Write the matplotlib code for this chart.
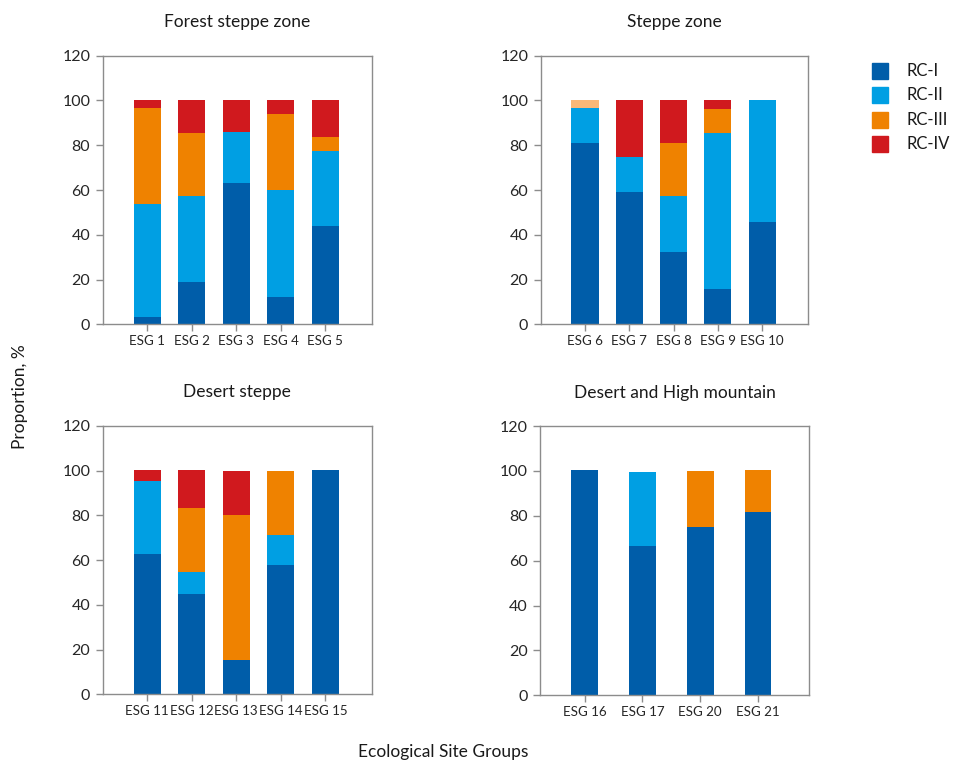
import numpy as np
import matplotlib.pyplot as plt
from matplotlib.patches import Rectangle

plt.rcParams['font.family'] = ['Lato', 'DejaVu Sans']

# Data (proportion, %)
series = ['RC-I', 'RC-II', 'RC-III', 'RC-IV']
colors = ['#005DA9', '#009FE3', '#EF8200', '#D0191E']
pale_orange = '#F9B878'

forest_groups = ['ESG 1', 'ESG 2', 'ESG 3', 'ESG 4', 'ESG 5']
forest_rc1 = [3.3, 18.9, 63.1, 12.2, 43.9]
forest_rc2 = [50.4, 38.6, 22.9, 47.8, 33.5]
forest_rc3 = [42.9, 28.0, 0.0, 33.9, 6.3]
forest_rc4 = [3.4, 14.5, 14.0, 6.1, 16.3]

steppe_groups = ['ESG 6', 'ESG 7', 'ESG 8', 'ESG 9', 'ESG 10']
steppe_rc1 = [81.0, 59.1, 32.3, 15.8, 45.7]
steppe_rc2 = [15.6, 15.6, 25.2, 69.7, 54.3]
steppe_rc3 = [3.4, 0.0, 23.5, 10.7, 0.0]
steppe_rc4 = [0.0, 25.3, 19.0, 3.8, 0.0]

desert_groups = ['ESG 11', 'ESG 12', 'ESG 13', 'ESG 14', 'ESG 15']
desert_rc1 = [62.7, 44.8, 15.5, 57.8, 100.2]
desert_rc2 = [32.6, 10.0, 0.0, 13.4, 0.0]
desert_rc3 = [0.0, 28.4, 64.6, 28.5, 0.0]
desert_rc4 = [4.9, 17.0, 19.6, 0.0, 0.0]

mountain_groups = ['ESG 16', 'ESG 17', 'ESG 20', 'ESG 21']
mountain_rc1 = [100.4, 66.5, 75.0, 81.7]
mountain_rc2 = [0.0, 33.0, 0.0, 0.0]
mountain_rc3 = [0.0, 0.0, 25.0, 18.7]
mountain_rc4 = [0.0, 0.0, 0.0, 0.0]

panels = [
    ('Forest steppe zone', forest_groups, [forest_rc1, forest_rc2, forest_rc3, forest_rc4], None),
    ('Steppe zone', steppe_groups, [steppe_rc1, steppe_rc2, steppe_rc3, steppe_rc4], {(2, 0): pale_orange}),
    ('Desert steppe', desert_groups, [desert_rc1, desert_rc2, desert_rc3, desert_rc4], None),
    ('Desert and High mountain', mountain_groups, [mountain_rc1, mountain_rc2, mountain_rc3, mountain_rc4], None),
]

fig = plt.figure(figsize=(9.58, 7.60), dpi=100)

# axes boxes in figure fraction [left, bottom, width, height]
boxes = [
    [0.1072, 0.5733, 0.2808, 0.3534],
    [0.5644, 0.5733, 0.2793, 0.3534],
    [0.1072, 0.0864, 0.2808, 0.3534],
    [0.5637, 0.0851, 0.2808, 0.3543],
]
frame_col = '#8C8C8C'
text_col = '#262626'

for (title, groups, stacks, overrides), box in zip(panels, boxes):
    ax = fig.add_axes(box)
    x = np.arange(len(groups))
    width = 0.61 if len(groups) == 5 else 0.46
    bottom = np.zeros(len(groups))
    for i, vals in enumerate(stacks):
        vals = np.array(vals)
        cols = [colors[i]] * len(groups)
        if overrides:
            for (si, bi), c in overrides.items():
                if si == i:
                    cols[bi] = c
        ax.bar(x, vals, width, bottom=bottom, color=cols, linewidth=0)
        bottom += vals
    if len(groups) == 5:
        ax.set_xlim(-1.0, 5.04)
    else:
        ax.set_xlim(-0.77, 3.88)
    ax.set_ylim(0, 120)
    ax.set_yticks(np.arange(0, 121, 20))
    ax.set_xticks(x)
    ax.set_xticklabels(groups)
    for s in ax.spines.values():
        s.set_color(frame_col)
        s.set_linewidth(1.0)
    ax.tick_params(axis='y', length=5, width=1, color=frame_col, labelsize=11.5, labelcolor=text_col, pad=4)
    ax.tick_params(axis='x', length=5, width=1, color=frame_col, labelsize=9.6, labelcolor=text_col, pad=3)
    cx = box[0] + box[2] / 2
    fig.text(cx, box[1] + box[3] + 0.044, title, ha='center', va='center', fontsize=12.5, color='#1a1a1a')

# legend drawn as squares and labels
for i, (name, c) in enumerate(zip(series, colors)):
    y = 1 - (71 + i * 24.4) / 760
    fig.patches.append(Rectangle((872 / 958, y - 8 / 760), 16 / 958, 16 / 760,
                                 transform=fig.transFigure, color=c, figure=fig))
    fig.text(907 / 958, y, name, ha='left', va='center', fontsize=12, color='#1a1a1a')

fig.text(20 / 958, 1 - 397 / 760, 'Proportion, %', rotation=90, ha='center', va='center', fontsize=12.5, color='#1a1a1a')
fig.text(443 / 958, 1 - 752 / 760, 'Ecological Site Groups', ha='center', va='center', fontsize=12.5, color='#1a1a1a')

fig.savefig('out.png', dpi=100)
